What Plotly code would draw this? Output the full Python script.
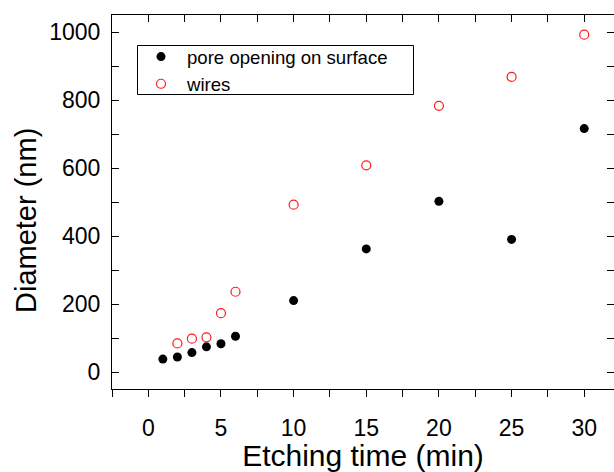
import plotly.graph_objects as go

# Data
pore_x = [1, 2, 3, 4, 5, 6, 10, 15, 20, 25, 30]
pore_y = [38, 44, 57, 74, 83, 105, 210, 362, 502, 390, 716]
wire_x = [2, 3, 4, 5, 6, 10, 15, 20, 25, 30]
wire_y = [84, 98, 102, 173, 236, 492, 608, 783, 868, 992]

x_tickvals = [-2.5, 0, 2.5, 5, 7.5, 10, 12.5, 15, 17.5, 20, 22.5, 25, 27.5, 30, 32.5]
x_ticktext = ["", "0", "", "5", "", "10", "", "15", "", "20", "", "25", "", "30", ""]
y_tickvals = [0, 100, 200, 300, 400, 500, 600, 700, 800, 900, 1000]
y_ticktext = ["0", "", "200", "", "400", "", "600", "", "800", "", "1000"]

XR = [-2.5, 32.05]
YR = [-50, 1050]
FONT = "Arial, Liberation Sans, sans-serif"

W, H = 614, 472
ML, MR, MT, MB = 112, 0, 15, 83
PW, PH = W - ML - MR, H - MT - MB


def px_x(px):
    return (px - ML) / PW


def px_y(py):
    return (H - MB - py) / PH


fig = go.Figure()
fig.add_trace(go.Scatter(
    x=pore_x, y=pore_y, mode="markers", name="pore opening on surface",
    marker=dict(symbol="circle", size=9, color="black", line=dict(width=0)),
))
fig.add_trace(go.Scatter(
    x=wire_x, y=wire_y, mode="markers", name="wires",
    marker=dict(symbol="circle-open", size=9, color="#ff1a1a", line=dict(width=1.2)),
))
# invisible helper trace so the mirror axes are drawn
fig.add_trace(go.Scatter(x=wire_x, y=wire_y, xaxis="x2", yaxis="y2", mode="markers",
                         marker=dict(opacity=0), showlegend=False, hoverinfo="skip"))

common_tick = dict(tickcolor="black", ticklen=7, tickwidth=1)
fig.update_layout(
    width=W, height=H,
    margin=dict(l=ML, r=MR, t=MT, b=MB, autoexpand=False),
    paper_bgcolor="white", plot_bgcolor="white",
    font=dict(family=FONT, color="black", size=23),
    showlegend=True,
    legend=dict(
        x=px_x(135), y=px_y(38), xanchor="left", yanchor="top",
        borderwidth=0, bgcolor="rgba(0,0,0,0)",
        font=dict(size=18.6, family=FONT), tracegroupgap=0, itemwidth=42,
    ),
    shapes=[dict(type="rect", xref="paper", yref="paper",
                 x0=px_x(137.5), x1=px_x(413.5), y0=px_y(94.5), y1=px_y(45.5),
                 line=dict(color="black", width=1), fillcolor="rgba(0,0,0,0)")],
    annotations=[dict(text="Diameter (nm)", xref="paper", yref="paper",
                      x=px_x(26), y=px_y(221), textangle=-90, showarrow=False,
                      font=dict(size=29, family=FONT), xanchor="center", yanchor="middle")],
    xaxis=dict(
        range=XR, tickmode="array", tickvals=x_tickvals, ticktext=x_ticktext,
        ticks="outside", **common_tick, showline=True, linecolor="black", linewidth=1,
        showgrid=False, zeroline=False, mirror=False, ticklabelstandoff=11,
        title=dict(text="Etching time (min)", font=dict(size=30), standoff=12),
        tickfont=dict(size=23), automargin=False,
    ),
    xaxis2=dict(
        range=XR, overlaying="x", side="top", tickmode="array", tickvals=x_tickvals,
        ticks="inside", **common_tick, showticklabels=False, showline=True,
        linecolor="black", linewidth=1, showgrid=False, zeroline=False, automargin=False,
    ),
    yaxis=dict(
        range=YR, tickmode="array", tickvals=y_tickvals, ticktext=y_ticktext,
        ticks="inside", **common_tick, showline=True, linecolor="black", linewidth=1,
        showgrid=False, zeroline=False, mirror=False, ticklabelstandoff=6,
        tickfont=dict(size=23), automargin=False,
    ),
    yaxis2=dict(
        range=YR, overlaying="y", side="right", tickmode="array", tickvals=y_tickvals,
        ticks="inside", **common_tick, showticklabels=False, showline=False,
        showgrid=False, zeroline=False, automargin=False,
    ),
)

fig.write_html("out.html")
